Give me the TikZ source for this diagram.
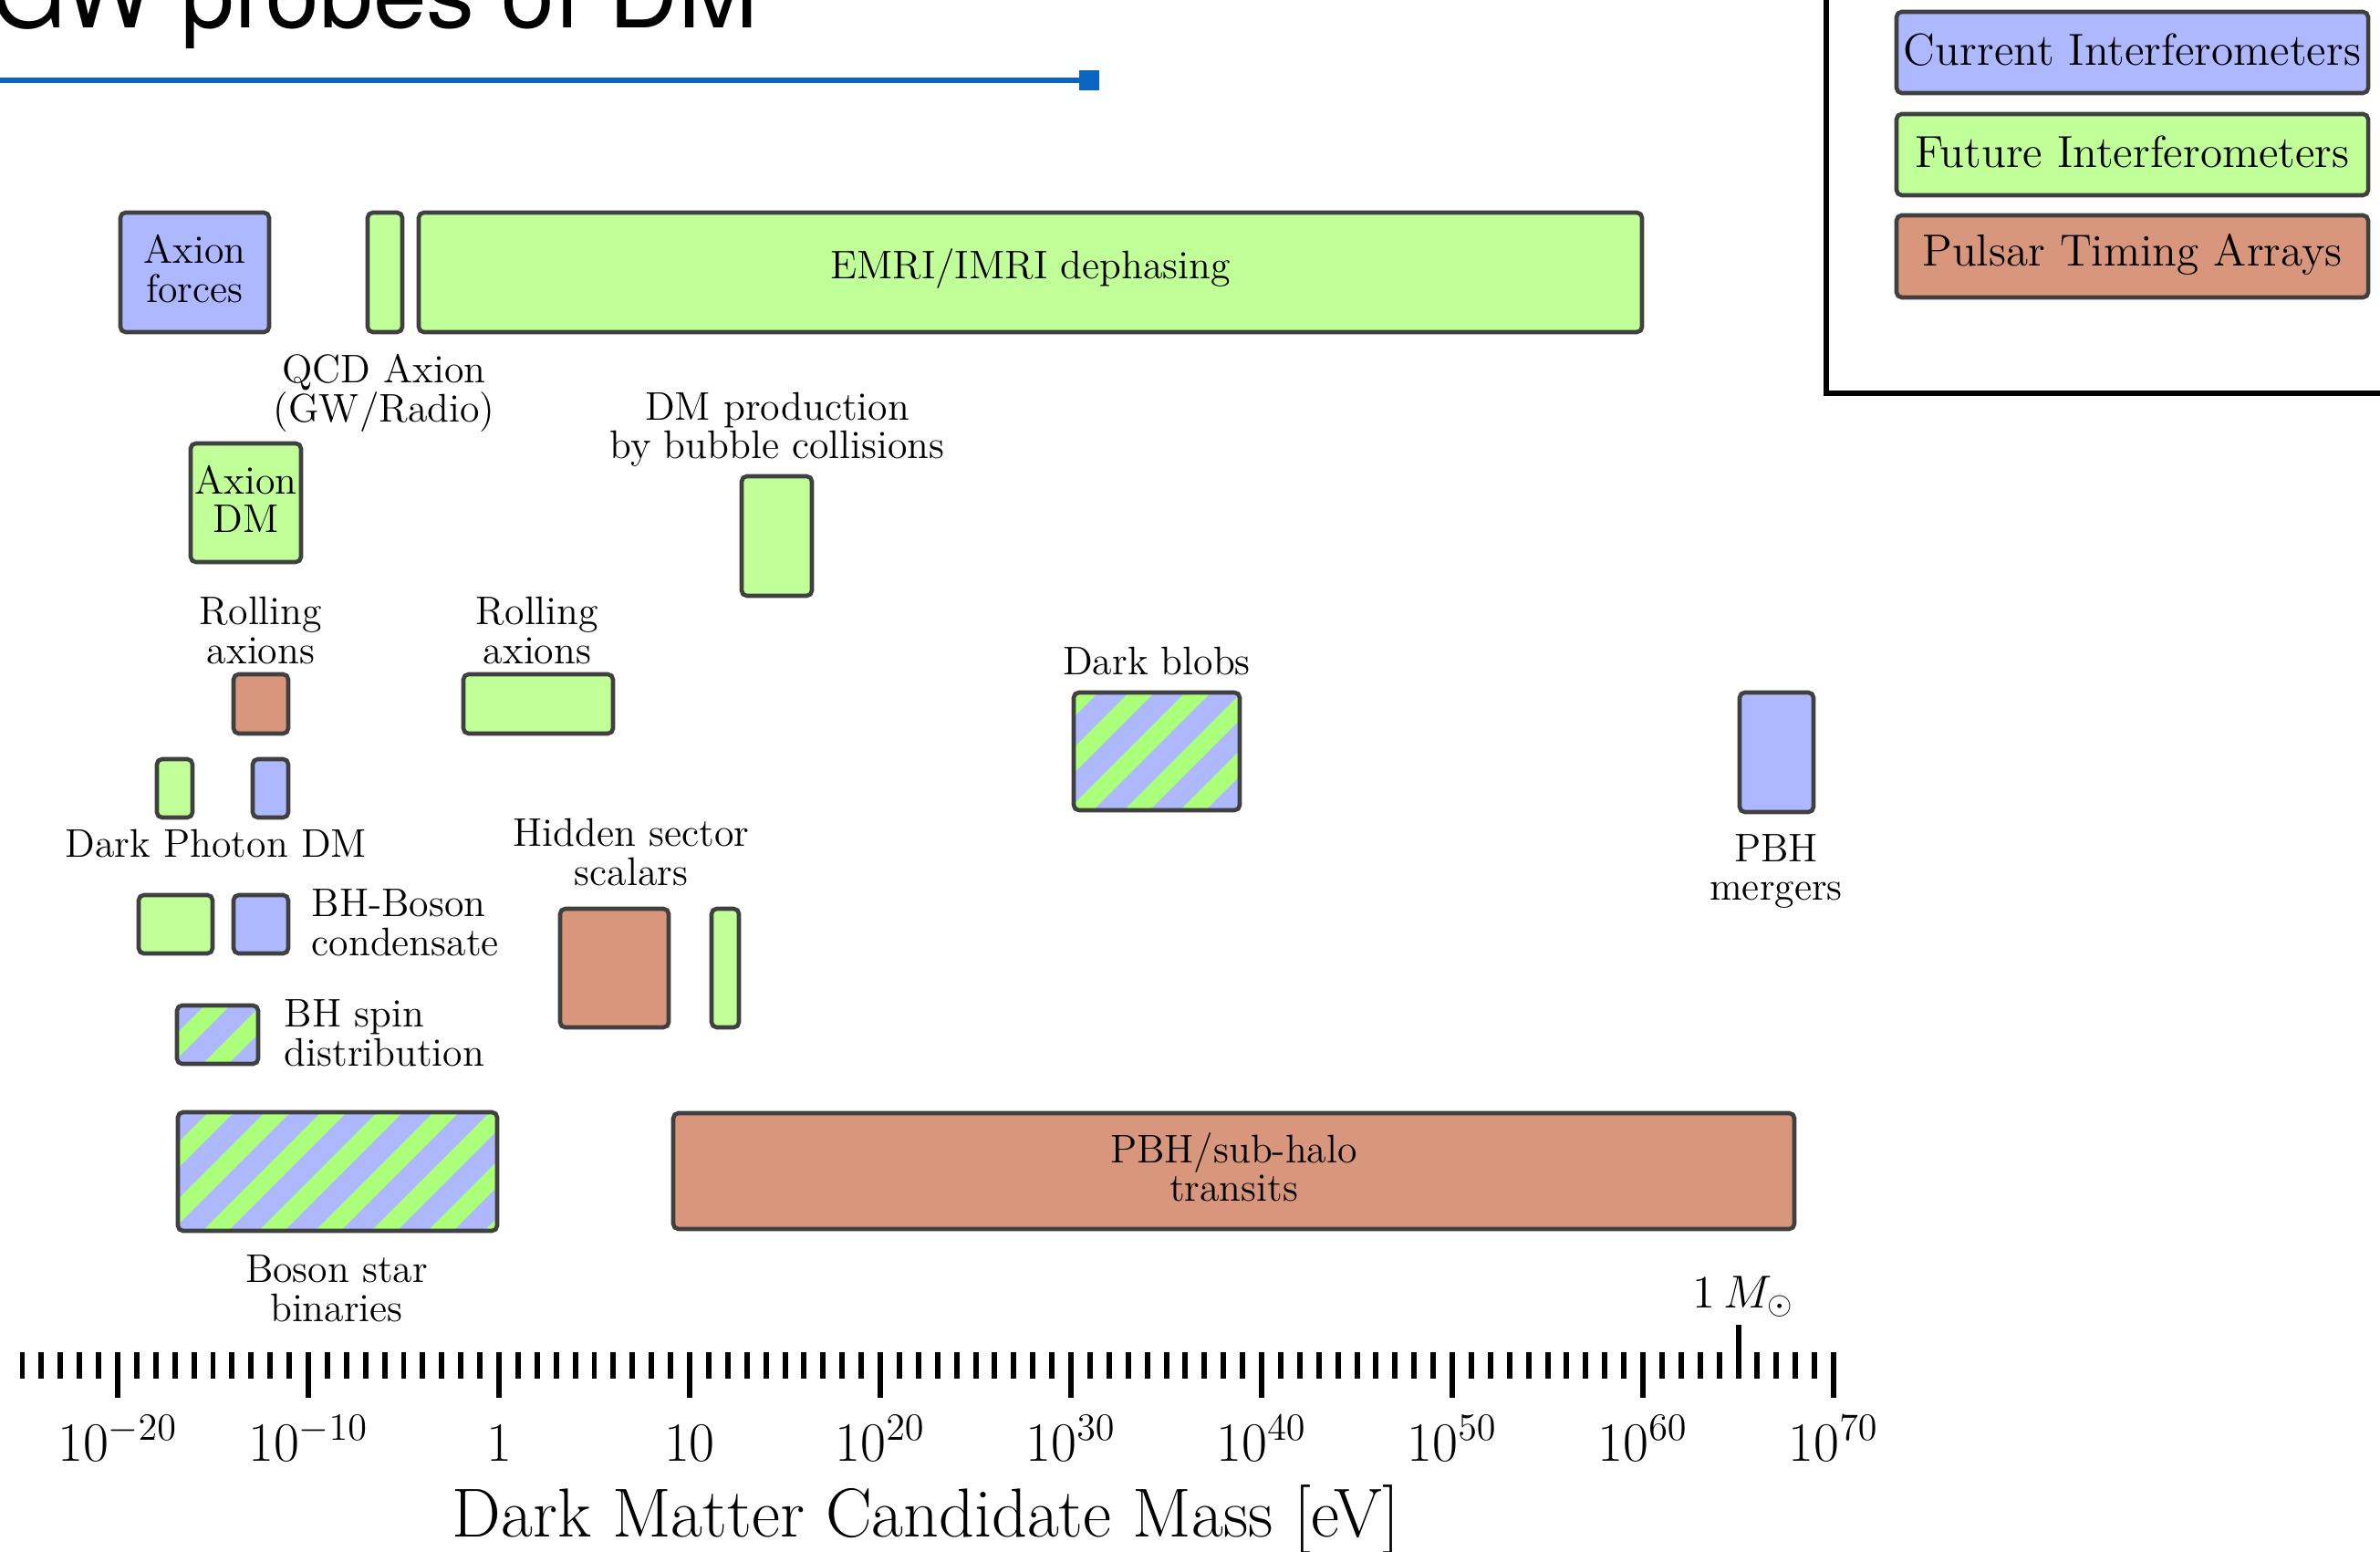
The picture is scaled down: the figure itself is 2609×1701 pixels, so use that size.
\documentclass[tikz,border=0pt]{standalone}
\usepackage{fontspec}
\usetikzlibrary{fit,calc}
\newfontfamily\titlefont{TeX Gyre Heros}
\definecolor{cblue}{RGB}{173,184,255}
\definecolor{cgreen}{RGB}{193,255,153}
\definecolor{hgreen}{RGB}{172,255,120}
\definecolor{csalmon}{RGB}{216,150,124}
\definecolor{cedge}{RGB}{64,64,64}
\definecolor{tblue}{RGB}{10,100,195}
\newcommand\boxfont{\fontsize{12.45}{12.1}\selectfont}
\newcommand\legfont{\fontsize{14}{15}\selectfont}
\tikzset{
  pbox/.style={draw=cedge, line width=1.3pt, rounded corners=1.6pt, inner sep=0pt},
  lbl/.style={align=center, font=\boxfont, inner sep=0pt},
  legtext/.style={font=\legfont, inner sep=0pt},
  tickmark/.style={line width=1.7pt, black},
  ticklbl/.style={inner sep=0pt, font=\fontsize{17.28}{20}\selectfont},
}
% name, x0, y0, x1, y1, fill
\newcommand\pbox[6]{\node[pbox, fill=#6, fit={(#2+2,#3+2) (#4-2,#5-2)}] (#1) {};}
% name, x0, y0, x1, y1, fill, text
\newcommand\pboxt[7]{\pbox{#1}{#2}{#3}{#4}{#5}{#6}\node[lbl] (#1-t) at ($(#1.center)+(0,-4)$) {#7};}
% name, x0, y0, x1, y1, stripe phase
\newcommand\hatchbox[6]{%
  \begin{scope}
    \clip[rounded corners=1.6pt] (#2+2,#3+2) rectangle (#4-2,#5-2);
    \fill[cblue] (#2,#3) rectangle (#4,#5);
    \foreach \k in {-14,...,14}{%
      \fill[hgreen] ({#6+61.7*\k},#5) -- ++(28,0) -- ++({#5-#3},{-(#5-#3)}) -- ++(-28,0) -- cycle;}
  \end{scope}
  \node[pbox, fit={(#2+2,#3+2) (#4-2,#5-2)}] (#1) {};}
\begin{document}
\begin{tikzpicture}[x=0.01cm,y=-0.01cm]
\useasboundingbox (0,0) rectangle (2609,1701);
\clip (0,0) rectangle (2609,1701);
\fill[white] (0,0) rectangle (2609,1701);

% title
\node[anchor=base east, inner sep=0pt, font=\titlefont\fontsize{30}{34}\selectfont] (title) at (832,31) {GW probes of DM};
\coordinate (lstart) at (0,88);
\node[fill=tblue, minimum size=0.22cm, inner sep=0pt] (lsq) at (1194,88) {};
\draw[tblue, line width=1.6pt] (lstart) -- (lsq.center);

% legend
\draw[line width=1.45pt] (2002,-20) |- (2650,431);
\pbox{lcur}{2077}{11}{2598}{104}{cblue}
\pbox{lfut}{2077}{123}{2598}{216}{cgreen}
\pbox{lpta}{2077}{234}{2598}{328}{csalmon}
\node[legtext] (lcur-t) at ($(lcur.center)+(0,-3)$) {Current Interferometers};
\node[legtext] (lfut-t) at ($(lfut.center)+(0,-3)$) {Future Interferometers};
\node[legtext] (lpta-t) at ($(lpta.center)+(0,-2)$) {Pulsar Timing Arrays};

% boxes
\pboxt{af}{130}{231}{297}{366}{cblue}{Axion\\forces}
\pbox{qcd}{401}{231}{443}{366}{cgreen}
\pboxt{emri}{457}{231}{1802}{366}{cgreen}{EMRI/IMRI dephasing}
\pboxt{adm}{207}{484}{332}{618}{cgreen}{Axion\\DM}
\pbox{bub}{811}{520}{892}{655}{cgreen}
\pbox{rollp}{254}{737}{318}{806}{csalmon}
\pbox{rollg}{506}{737}{674}{806}{cgreen}
\pbox{dpg}{170}{830}{213}{898}{cgreen}
\pbox{dpb}{275}{830}{318}{898}{cblue}
\pbox{bbg}{150}{979}{235}{1047}{cgreen}
\pbox{bbb}{254}{979}{318}{1047}{cblue}
\pbox{hss}{612}{994}{735}{1128}{csalmon}
\pbox{hsg}{778}{994}{812}{1128}{cgreen}
\pboxt{pbht}{736}{1218}{1969}{1349}{csalmon}{PBH/sub-halo\\transits}
\pbox{pbhm}{1905}{757}{1990}{892}{cblue}
\hatchbox{spin}{192}{1100}{285}{1168}{220}
\hatchbox{bsb}{193}{1217}{547}{1351}{220}
\hatchbox{blob}{1175}{757}{1361}{890}{1230}

% labels
\node[lbl] (lqcd) at (421,431) {QCD Axion\\(GW/Radio)};
\node[lbl] (lbub) at (852,471) {DM production\\by bubble collisions};
\node[lbl] (lroll1) at (286,691) {Rolling\\axions};
\node[lbl] (lroll2) at (589,691) {Rolling\\axions};
\node[lbl] (ldp) at (237,925) {Dark Photon DM};
\node[lbl, anchor=west, align=left] (lbhb) at (341,1011) {BH-Boson\\condensate};
\node[lbl, anchor=west, align=left] (lspin) at (311,1132) {BH spin\\distribution};
\node[lbl] (lhid) at (692,934) {Hidden sector\\scalars};
\node[lbl] (lbsb) at (369,1412) {Boson star\\binaries};
\node[lbl] (lblob) at (1268,725) {Dark blobs};
\node[lbl] (lpbhm) at (1947,955) {PBH\\mergers};

% axis
\foreach \i in {-25,...,70}
  \draw[tickmark] ({129+20.9*(\i+20)},1482) -- ({129+20.9*(\i+20)},1511);
\foreach \k in {0,...,9}
  \draw[tickmark] ({129+209*\k},1482) -- ({129+209*\k},1532);
\draw[tickmark] (1905.5,1452) -- (1905.5,1511);
\node[anchor=base, inner sep=0pt, font=\fontsize{14.4}{17}\selectfont] (msun) at (1911,1433) {$1\,M_\odot$};
\foreach \k/\t in {0/{10^{-20}},1/{10^{-10}},2/{1},3/{10},4/{10^{20}},5/{10^{30}},6/{10^{40}},7/{10^{50}},8/{10^{60}},9/{10^{70}}}
  \node[ticklbl, anchor=base] (t\k) at ({129+209*\k},1601) {$\t$};
\node[anchor=base, inner sep=0pt, font=\fontsize{21.6}{24}\selectfont] (xtitle) at (1015,1684) {Dark Matter Candidate Mass [eV]};
\end{tikzpicture}
\end{document}
